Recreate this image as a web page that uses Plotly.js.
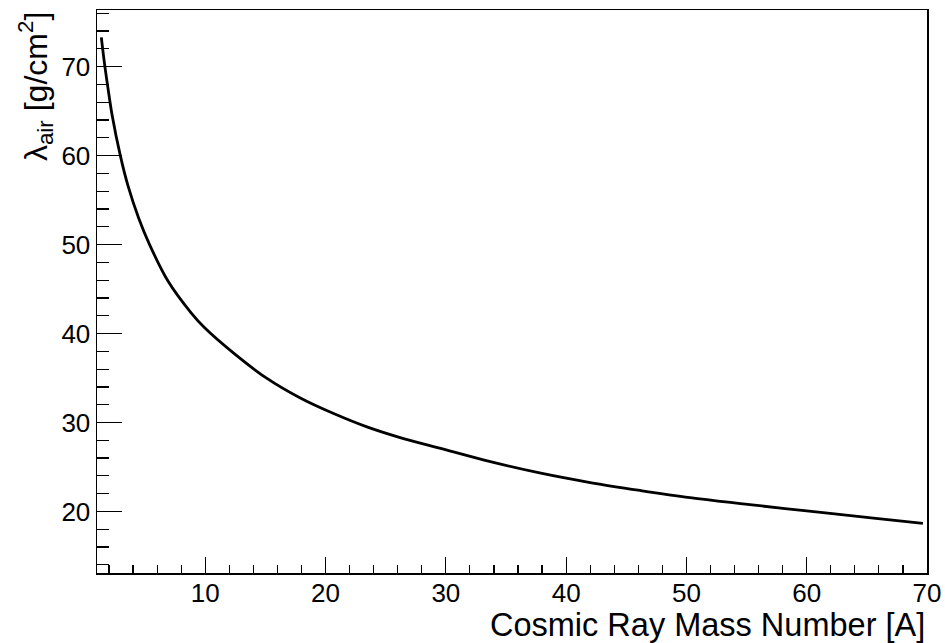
<!DOCTYPE html>
<html>
<head>
<meta charset="utf-8">
<script src="https://cdn.plot.ly/plotly-3.0.1.min.js"></script>
<style>
  html, body { margin: 0; padding: 0; background: #ffffff; }
  #chart { width: 945px; height: 643px; }
</style>
</head>
<body>
<div id="chart"></div>
<script>
// Cosmic ray mass number A
const massNumber = [1.36, 1.6, 1.9, 2.25, 2.94, 3.58, 4.46, 5.37, 6.9, 8.84, 9.95, 12.36, 15.13, 17.9, 20.67, 23.44, 26.2, 29.8, 33.7, 37.9, 42.0, 46.2, 50.3, 54.5, 60.0, 65.55, 69.66];
// Interaction length in air, g/cm^2
const lambdaAir = [73.3, 70.6, 67.7, 64.6, 60.0, 56.6, 53.0, 50.0, 45.9, 42.3, 40.65, 37.8, 34.95, 32.75, 31.0, 29.5, 28.3, 27.0, 25.6, 24.3, 23.25, 22.35, 21.55, 20.88, 20.06, 19.25, 18.65];

const xTitle = "Cosmic Ray Mass Number [A]";
const yTitle = "λ<sub>air</sub> [g/cm<sup>2</sup>]";

const font = "Liberation Sans, Arial, Helvetica, sans-serif";

const trace = {
  x: massNumber,
  y: lambdaAir,
  type: "scatter",
  mode: "lines",
  line: { color: "#000000", width: 2.8, shape: "spline", smoothing: 1.0 },
  hoverinfo: "skip"
};

const layout = {
  width: 945,
  height: 643,
  margin: { l: 97, r: 18, t: 10, b: 70 },
  paper_bgcolor: "#ffffff",
  plot_bgcolor: "#ffffff",
  showlegend: false,
  font: { family: font, color: "#000000", size: 26 },
  xaxis: {
    range: [1, 70.001],
    showgrid: false,
    zeroline: false,
    showline: true,
    linecolor: "#000000",
    linewidth: 1.5,
    mirror: true,
    ticks: "inside",
    tickmode: "linear",
    tick0: 0,
    dtick: 10,
    ticklen: 16,
    tickwidth: 1.2,
    tickcolor: "#000000",
    ticklabelstandoff: -4,
    tickfont: { family: font, size: 26, color: "#000000" },
    minor: { ticks: "inside", dtick: 2, tick0: 0, ticklen: 8, tickwidth: 1.2, tickcolor: "#000000", showgrid: false }
  },
  yaxis: {
    range: [13.08, 76.37],
    showgrid: false,
    zeroline: false,
    showline: true,
    linecolor: "#000000",
    linewidth: 1.5,
    mirror: true,
    ticks: "inside",
    tickmode: "linear",
    tick0: 0,
    dtick: 10,
    ticklen: 25,
    tickwidth: 1.2,
    tickcolor: "#000000",
    tickfont: { family: font, size: 26, color: "#000000" },
    minor: { ticks: "inside", dtick: 2, tick0: 0, ticklen: 12, tickwidth: 1.2, tickcolor: "#000000", showgrid: false }
  },
  annotations: [
    {
      text: xTitle,
      xref: "paper", yref: "paper",
      x: 1.0, y: -0.093,
      xanchor: "right", yanchor: "middle",
      showarrow: false,
      font: { family: font, size: 32.5, color: "#000000" }
    },
    {
      text: yTitle,
      xref: "paper", yref: "paper",
      x: -0.074, y: 1.0,
      xanchor: "center", yanchor: "top",
      textangle: -90,
      showarrow: false,
      font: { family: font, size: 32, color: "#000000" }
    }
  ]
};

Plotly.newPlot("chart", [trace], layout, { displayModeBar: false, staticPlot: true });
</script>
</body>
</html>
